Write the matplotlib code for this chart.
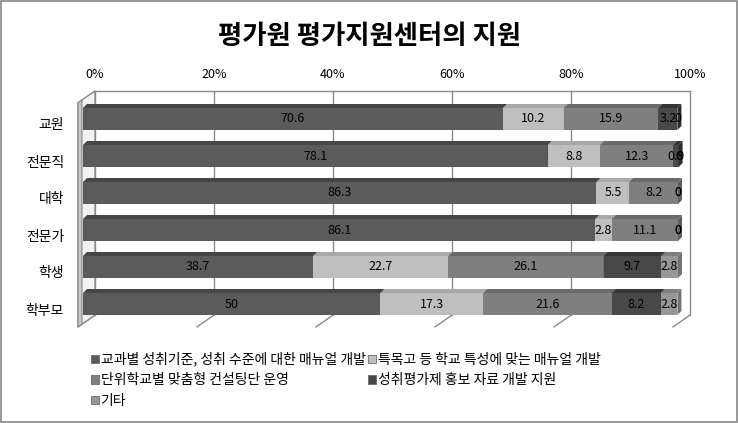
import numpy as np
import matplotlib.pyplot as plt
from matplotlib.patches import Polygon, Rectangle, Patch

plt.rcParams['font.family'] = ['Noto Sans CJK KR', 'DejaVu Sans']

title = '평가원 평가지원센터의 지원'
categories = ['교원', '전문직', '대학', '전문가', '학생', '학부모']
series_names = ['교과별 성취기준, 성취 수준에 대한 매뉴얼 개발',
                '특목고 등 학교 특성에 맞는 매뉴얼 개발',
                '단위학교별 맞춤형 컨설팅단 운영',
                '성취평가제 홍보 자료 개발 지원',
                '기타']
s1 = [70.6, 78.1, 86.3, 86.1, 38.7, 50]
s2 = [10.2, 8.8, 5.5, 2.8, 22.7, 17.3]
s3 = [15.9, 12.3, 8.2, 11.1, 26.1, 21.6]
s4 = [3.2, 0.9, 0, 0, 9.7, 8.2]
s5 = [0, 0, 0, 0, 2.8, 2.8]
ticks = [0, 20, 40, 60, 80, 100]

values = [s1, s2, s3, s4, s5]
face_colors = ['#5b5b5b', '#bfbfbf', '#7f7f7f', '#484848', '#979797']
top_colors = ['#464646', '#a9a9a9', '#6a6a6a', '#363636', '#808080']
side_colors = ['#3d3d3d', '#9c9c9c', '#5f5f5f', '#2e2e2e', '#737373']
grid_color = '#8a8a8a'

W, H = 738, 423
fig = plt.figure(figsize=(W / 100, H / 100), dpi=100)
ax = fig.add_axes([0, 0, 1, 1])
ax.set_axis_off()

# pixel layout of the bar front plane
x0_px, span_px = 83, 595
row0_px, row_px = 119, 37
px_x = 100 / span_px
px_y = 1 / row_px
ax.set_xlim(-x0_px * px_x, (W - x0_px) * px_x)
ax.set_ylim((H - row0_px) * px_y, -row0_px * px_y)

# 3D offsets (data units)
bx, by = 12 * px_x, -8.5 * px_y      # back wall
fx, fy = -5 * px_x, 3.3 * px_y       # front edge of floor / side wall
tx, ty = 4 * px_x, -4 * px_y         # bar depth
yt, yb = -0.53, 5.53                 # wall extent
bar_h = 22 * px_y

# back wall + gridlines
ax.add_patch(Rectangle((bx, yt + by), 100, yb - yt, facecolor='white',
                       edgecolor='none', zorder=0))
ax.plot([bx, 100 + bx], [yt + by, yt + by], color=grid_color, lw=1, zorder=1)
for g in ticks:
    ax.plot([g + bx, g + bx], [yt + by, yb + by], color=grid_color, lw=1, zorder=1)
    ax.plot([g + bx, g + fx], [yb + by, yb + fy], color=grid_color, lw=1, zorder=1)
    ax.text(g + bx, (75 - row0_px) * px_y, f'{g}%', ha='center', va='center',
            fontsize=9)

# left side wall
ax.add_patch(Polygon([(fx, yt + fy), (bx, yt + by), (bx, yb + by), (fx, yb + fy)],
                     closed=True, facecolor='#f2f2f2', edgecolor=grid_color,
                     lw=1, zorder=1))
ax.add_patch(Polygon([(fx, yt + fy), (fx + 4 * px_x, yt + fy - 2.7 * px_y),
                      (fx + 4 * px_x, yb + fy - 2.7 * px_y), (fx, yb + fy)],
                     closed=True, facecolor='#c6c6c6', edgecolor=grid_color,
                     lw=0.8, zorder=1.5))

# stacked 3D bars
y = np.arange(len(categories))
left = np.zeros(len(categories))
for k, vals in enumerate(values):
    vals = np.array(vals, dtype=float)
    z = 3 + k
    ax.barh(y, vals, left=left, height=bar_h, color=face_colors[k],
            edgecolor='none', zorder=z)
    for i, v in enumerate(vals):
        top = i - bar_h / 2
        bot = i + bar_h / 2
        l = left[i]
        if v > 0:
            ax.add_patch(Polygon([(l, top), (l + tx, top + ty), (l + v + tx, top + ty),
                                  (l + v, top)], closed=True,
                                 facecolor=top_colors[k], edgecolor='none', zorder=z))
            ax.add_patch(Polygon([(l + v, top), (l + v + tx, top + ty),
                                  (l + v + tx, bot + ty), (l + v, bot)], closed=True,
                                 facecolor=side_colors[k], edgecolor='none', zorder=z))
        ax.text(l + v / 2, i, f'{v:g}', ha='center', va='center', fontsize=9,
                color='black', zorder=20)
    left += vals

# category labels
for i, c in enumerate(categories):
    ax.text((64 - x0_px) * px_x, i + 6.5 * px_y, c, ha='right', va='center',
            fontsize=10)

fig.text(0.5, 1 - 36 / H, title, ha='center', va='center', fontsize=19,
         fontweight='bold')

handles = [Patch(facecolor=face_colors[k], edgecolor='#6a6a6a', lw=0.6)
           for k in range(5)]
order = [0, 2, 4, 1, 3]
fig.legend([handles[k] for k in order], [series_names[k] for k in order],
           loc='upper left', bbox_to_anchor=(84 / W, 1 - 345 / H), ncol=2,
           frameon=False, borderpad=0, handlelength=0.55, handleheight=0.55,
           handletextpad=0.15, columnspacing=0.2, fontsize=10, labelspacing=0.48)

fig.add_artist(Rectangle((1 / W, 1 / H), (W - 2) / W, (H - 2) / H,
                         transform=fig.transFigure, fill=False,
                         edgecolor='#868686', lw=1.2))

fig.savefig('out.png', dpi=100)
